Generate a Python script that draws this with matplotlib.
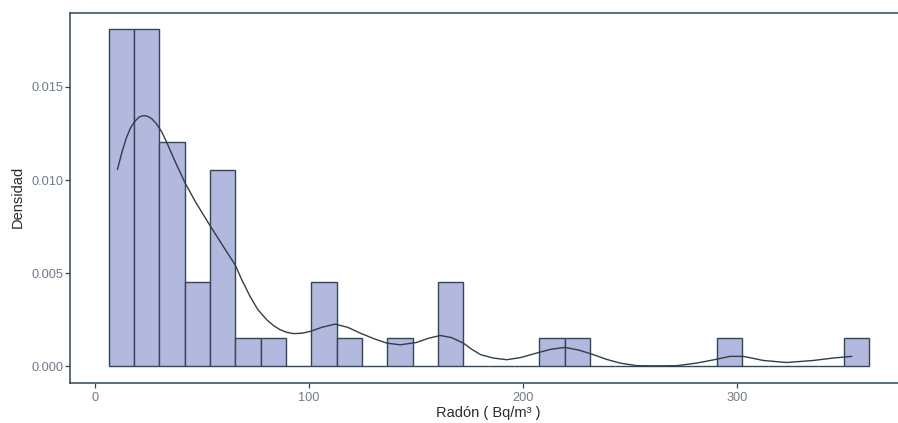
import numpy as np
import matplotlib.pyplot as plt

bin_start = 6.2
bin_width = 11.85
counts = [12, 12, 8, 3, 7, 1, 1, 0, 3, 1,
          0, 1, 0, 3, 0, 0, 0, 1, 1, 0,
          0, 0, 0, 0, 1, 0, 0, 0, 0, 1]

# density curve
dens_x = [10.4, 12.5, 14.5, 16.5, 18.5, 20.5, 22.5, 24.5, 26.5, 28.5,
          31.0, 33.5, 37.5, 42.1, 47.0, 53.7, 59.5, 65.4, 68.5, 72.4,
          76.0, 80.2, 83.5, 86.4, 89.5, 92.7, 96.5, 100.5, 106.0, 112.1,
          118.0, 123.8, 130.0, 136.3, 142.5, 150.0, 155.5, 161.2, 166.5, 172.1,
          176.0, 180.2, 186.0, 192.4, 199.0, 206.4, 213.0, 219.6, 226.0, 232.9,
          239.0, 245.3, 253.1, 262.0, 271.8, 281.2, 289.0, 296.7, 303.0, 312.3,
          323.2, 335.7, 345.0, 353.6]
dens_y = [0.01058, 0.01150, 0.01225, 0.01280, 0.01315, 0.01338, 0.01346, 0.01342, 0.01328, 0.01303,
          0.01260, 0.01200, 0.01095, 0.00982, 0.00880, 0.00755, 0.00650, 0.00545, 0.00465, 0.00375,
          0.00305, 0.00250, 0.00218, 0.00197, 0.00183, 0.00176, 0.00178, 0.00188, 0.00210, 0.00227,
          0.00210, 0.00179, 0.00150, 0.00125, 0.00116, 0.00128, 0.00150, 0.00166, 0.00155, 0.00125,
          0.00092, 0.00063, 0.00045, 0.00036, 0.00048, 0.00072, 0.00092, 0.00102, 0.00088, 0.00063,
          0.00038, 0.00018, 0.00004, 0.00003, 0.00004, 0.00018, 0.00035, 0.00054, 0.00054, 0.00032,
          0.00021, 0.00032, 0.00045, 0.00054]

x_ticks = [0, 100, 200, 300]
y_ticks = [0.000, 0.005, 0.010, 0.015]
y_ticklabels = ['0.000', '0.005', '0.010', '0.015']

plt.rcParams['font.family'] = ['Liberation Sans', 'DejaVu Sans']

edge_col = '#33475a'
fill_col = '#b2b8de'
text_col = '#6f7b88'

fig = plt.figure(figsize=(8.98, 4.23), dpi=100)
ax = fig.add_axes([0.0785, 0.0939, 0.9315, 0.8765])

n = sum(counts)
lefts = bin_start + bin_width * np.arange(len(counts))
heights = np.array(counts) / (n * bin_width)
ax.bar(lefts, heights, width=bin_width, align='edge', color=fill_col,
       edgecolor=edge_col, linewidth=1.0, zorder=2)

ax.plot(dens_x, dens_y, color='#2f3e48', linewidth=1.0, zorder=3)

lo = bin_start
hi = lefts[-1] + bin_width
pad = 0.05 * (hi - lo)
ax.set_xlim(lo - pad, hi + pad)
ax.set_ylim(-0.05 * heights.max(), 1.05 * heights.max())

ax.set_xticks(x_ticks)
ax.set_xticklabels([str(v) for v in x_ticks])
ax.set_yticks(y_ticks)
ax.set_yticklabels(y_ticklabels)
ax.tick_params(axis='both', direction='out', length=3.6, width=0.9, color=edge_col,
               labelcolor=text_col, labelsize=9.2)
ax.tick_params(axis='y', pad=1.5)
ax.tick_params(axis='x', pad=3.0)

for s in ax.spines.values():
    s.set_color(edge_col)
    s.set_linewidth(1.1)

fig.text(18 / 898, 1 - 197 / 423, 'Densidad', rotation=90, ha='center', va='center',
         fontsize=10.5, color='#2b2b2b')
fig.text(488.5 / 898, 1 - 413 / 423, 'Radón ( Bq/m³ )', ha='center', va='center',
         fontsize=10.5, color='#2b2b2b')

fig.savefig('out.png', dpi=100)
